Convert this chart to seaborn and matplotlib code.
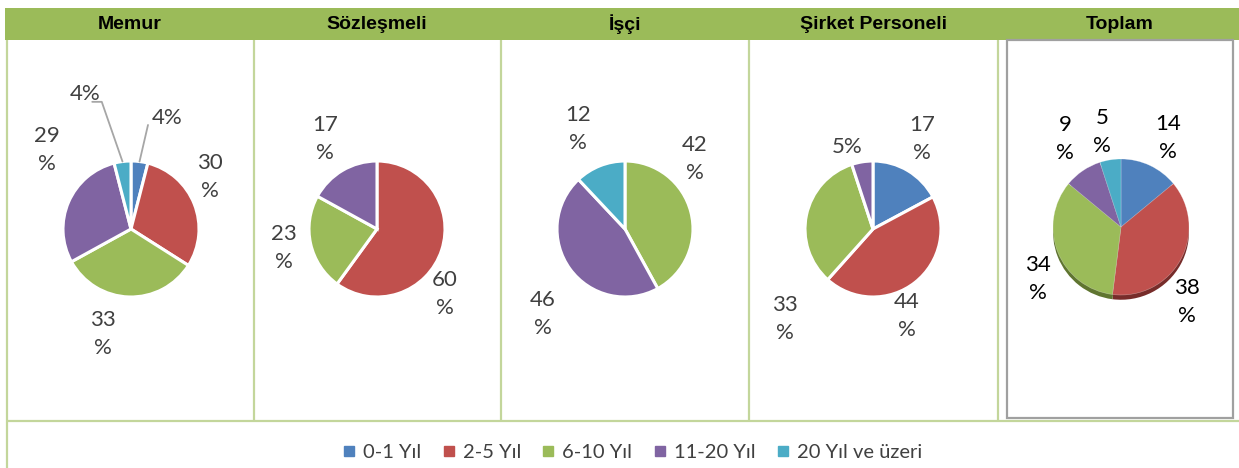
import matplotlib
matplotlib.use("Agg")
import matplotlib.pyplot as plt
from matplotlib.patches import Rectangle
from matplotlib.lines import Line2D
import seaborn as sns
import numpy as np

# ---------------- data ----------------
categories = ["0-1 Yıl", "2-5 Yıl", "6-10 Yıl", "11-20 Yıl", "20 Yıl ve üzeri"]
panels = ["Memur", "Sözleşmeli", "İşçi", "Şirket Personeli", "Toplam"]
memur = [4, 30, 33, 29, 4]
sozlesmeli = [0, 60, 23, 17, 0]
isci = [0, 0, 42, 46, 12]
sirket = [17, 44, 33, 5, 0]
toplam = [14, 38, 34, 9, 5]
series = [memur, sozlesmeli, isci, sirket, toplam]

# ---------------- style ----------------
sns.set_theme(style="white")
plt.rcParams['font.family'] = ['Lato', 'DejaVu Sans']
palette = sns.color_palette(["#4F81BD", "#C0504D", "#9BBB59", "#8064A2", "#4BACC6"])
dark_palette = sns.color_palette(["#2C4D75", "#772C2A", "#5F7530", "#4D3B62", "#276A7C"])

W, H = 1239, 468
R = 68.0          # pie radius in px
HALF = 135.0      # half size of each pie axes in px
centers = [(131, 229), (377, 229), (625, 229), (873, 229), (1121, 227)]
col_lines = [7, 254, 501, 749, 998]
header_x = [130, 377, 625, 873, 1120]

# label layout (offsets in radius units, wrap flag) for non-zero slices, in order
label_layout = [
    [(0.53, 1.63, False), (1.16, 0.76, True), (-0.41, -1.54, True), (-1.24, 1.16, True), (-0.68, 1.99, False)],
    [(1.00, -0.96, True), (-1.37, -0.28, True), (-0.76, 1.32, True)],
    [(1.03, 1.03, True), (-1.21, -1.25, True), (-0.69, 1.47, True)],
    [(0.72, 1.32, True), (0.50, -1.28, True), (-1.29, -1.32, True), (-0.38, 1.21, False)],
    [(0.69, 1.31, True), (0.97, -1.10, True), (-1.22, -0.76, True), (-0.82, 1.29, True), (-0.28, 1.40, True)],
]
# leader lines for Memur small slices: (slice index, label anchor points)
leaders = {0: [(0, [(0.25, 1.53)]), (4, [(-0.57, 1.87), (-0.43, 1.87)])]}

fig = plt.figure(figsize=(W / 100, H / 100), dpi=100)

# ---------------- table background ----------------
bg = fig.add_axes([0, 0, 1, 1])
bg.set_xlim(0, W)
bg.set_ylim(H, 0)
bg.axis("off")
green_line = "#C3D69B"
bg.add_patch(Rectangle((5, 8), W, 32, facecolor="#9BBB59", edgecolor="none"))
for x in col_lines:
    bg.plot([x, x], [40, 421 if x != 7 else H], color=green_line, lw=1.6, solid_capstyle="butt")
bg.plot([7, W], [421, 421], color=green_line, lw=1.6, solid_capstyle="butt")
bg.add_patch(Rectangle((1007, 40), 226, 378, facecolor="none", edgecolor="#A0A0A0", lw=1.6))
for x, name in zip(header_x, panels):
    bg.text(x, 24.5, name, ha="center", va="center", fontsize=14, fontweight="bold",
            family=["Liberation Sans Narrow", "Liberation Sans", "DejaVu Sans"], color="black")

# ---------------- pies ----------------
for i, (vals, (cx, cy)) in enumerate(zip(series, centers)):
    ax = fig.add_axes([(cx - HALF) / W, 1 - (cy + HALF) / H, 2 * HALF / W, 2 * HALF / H])
    idx = [k for k, v in enumerate(vals) if v > 0]
    v = [vals[k] for k in idx]
    cols = [palette[k] for k in idx]
    is3d = (i == 4)
    if is3d:
        ax.pie(v, colors=[dark_palette[k] for k in idx], startangle=90, counterclock=False,
               center=(0, -0.07), wedgeprops=dict(linewidth=0))
        wedges, _ = ax.pie(v, colors=cols, startangle=90, counterclock=False,
                           wedgeprops=dict(linewidth=0.4, edgecolor=(1, 1, 1, 0.4)))
    else:
        wedges, _ = ax.pie(v, colors=cols, startangle=90, counterclock=False,
                           wedgeprops=dict(linewidth=2.2, edgecolor="white"))
    ax.set_xlim(-HALF / R, HALF / R)
    ax.set_ylim(-HALF / R, HALF / R)
    ax.axis("off")
    txt_color = "black" if is3d else "#404040"
    for (dx, dy, wrap), val in zip(label_layout[i], v):
        s = f"{val}\n%" if wrap else f"{val}%"
        ax.text(dx, dy, s, ha="center", va="center", fontsize=16, color=txt_color,
                linespacing=1.5)
    for k, pts in leaders.get(i, []):
        w = wedges[idx.index(k)]
        mid = np.deg2rad((w.theta1 + w.theta2) / 2)
        xs = [p[0] for p in pts] + [np.cos(mid)]
        ys = [p[1] for p in pts] + [np.sin(mid)]
        ax.plot(xs, ys, color="#A6A6A6", lw=1.3)

# ---------------- legend ----------------
handles = [Line2D([], [], marker="s", linestyle="", markersize=7, color=c) for c in palette]
leg = fig.legend(handles, categories, loc="center", bbox_to_anchor=(632 / W, 1 - 452 / H),
                 ncol=5, frameon=False, fontsize=14.5, handlelength=0.7, handletextpad=0.35,
                 columnspacing=1.0)
for t in leg.get_texts():
    t.set_color("#404040")

fig.savefig("out.png", dpi=100)
